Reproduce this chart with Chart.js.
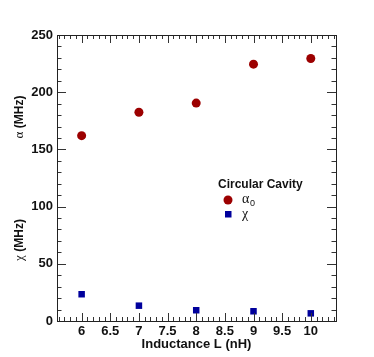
<!DOCTYPE html>
<html lang="en">
<head>
  <meta charset="UTF-8" />
  <title>Circular Cavity</title>
  <script src="https://cdn.jsdelivr.net/npm/chart.js"></script>
  <style>
    html, body {
      margin: 0;
      padding: 0;
      background: #ffffff;
    }
    .wrap {
      width: 374px;
      height: 357px;
    }
  </style>
</head>
<body>
  <div class="wrap"><canvas id="plot" width="374" height="357"></canvas></div>

  <script>
    // values
    const inductance = [6, 7, 8, 9, 10];
    const alpha0 = [162, 182.5, 190.5, 224.5, 229.5];
    const chi = [23.4, 13.4, 9.4, 8.5, 6.7];

    const xTickLabels = [6, 6.5, 7, 7.5, 8, 8.5, 9, 9.5, 10];
    const yTickLabels = [0, 50, 100, 150, 200, 250];

    const SANS = '"Liberation Sans", Arial, sans-serif';
    const SERIF = '"Liberation Serif", "DejaVu Serif", serif';

    const toPoints = (xs, ys) => xs.map((x, i) => ({ x, y: ys[i] }));

    // ROOT-like frame: ticks inside on all four sides, y titles, legend box
    const rootFrame = {
      id: 'rootFrame',
      afterDraw(chart) {
        const ctx = chart.ctx;
        const a = chart.chartArea;
        const xs = chart.scales.x;
        const ys = chart.scales.y;
        ctx.save();

        ctx.strokeStyle = '#333';
        ctx.lineWidth = 1;

        // x ticks every 0.1, major every 0.5
        for (let i = Math.ceil(xs.min * 10); i <= Math.floor(xs.max * 10); i++) {
          const px = Math.round(xs.getPixelForValue(i / 10)) + 0.5;
          const len = i % 5 === 0 ? 8 : 4;
          ctx.beginPath();
          ctx.moveTo(px, a.bottom); ctx.lineTo(px, a.bottom - len);
          ctx.moveTo(px, a.top); ctx.lineTo(px, a.top + len);
          ctx.stroke();
        }
        // y ticks every 10, major every 50
        for (let v = 0; v <= ys.max; v += 10) {
          const py = Math.round(ys.getPixelForValue(v)) + 0.5;
          const len = v % 50 === 0 ? 9 : 4.5;
          ctx.beginPath();
          ctx.moveTo(a.left, py); ctx.lineTo(a.left + len, py);
          ctx.moveTo(a.right, py); ctx.lineTo(a.right - len, py);
          ctx.stroke();
        }

        ctx.strokeStyle = '#222';
        ctx.strokeRect(Math.round(a.left) + 0.5, Math.round(a.top) + 0.5,
          Math.round(a.right - a.left), Math.round(a.bottom - a.top));

        // rotated y titles
        const yTitle = (greek, cy) => {
          ctx.save();
          ctx.translate(20, cy);
          ctx.rotate(-Math.PI / 2);
          ctx.fillStyle = '#111';
          ctx.textBaseline = 'middle';
          ctx.font = '13px ' + SERIF;
          const gw = ctx.measureText(greek).width;
          ctx.font = 'bold 12px ' + SANS;
          const rest = ' (MHz)';
          const rw = ctx.measureText(rest).width;
          let x = -(gw + rw) / 2;
          ctx.font = '13px ' + SERIF;
          ctx.textAlign = 'left';
          ctx.fillText(greek, x, 0);
          ctx.font = 'bold 12px ' + SANS;
          ctx.fillText(rest, x + gw, 0);
          ctx.restore();
        };
        yTitle('\u03b1', 117);
        yTitle('\u03c7', 240);

        // legend
        ctx.fillStyle = '#111';
        ctx.font = 'bold 12px ' + SANS;
        ctx.textBaseline = 'middle';
        ctx.textAlign = 'left';
        ctx.fillText('Circular Cavity', 218, 185);

        const ds = chart.data.datasets;
        ctx.fillStyle = ds[0].backgroundColor;
        ctx.beginPath();
        ctx.arc(228, 200, 4.5, 0, Math.PI * 2);
        ctx.fill();
        ctx.fillStyle = ds[1].backgroundColor;
        ctx.fillRect(225, 211, 6.5, 6.5);

        ctx.fillStyle = '#111';
        ctx.font = '14px ' + SERIF;
        ctx.fillText('\u03b1', 242, 199);
        ctx.font = '9px ' + SANS;
        ctx.fillText('0', 250, 204);
        ctx.font = '14px ' + SERIF;
        ctx.fillText('\u03c7', 242, 214);

        ctx.restore();
      }
    };

    new Chart(document.getElementById('plot'), {
      type: 'scatter',
      data: {
        datasets: [
          {
            label: '\u03b1\u2080',
            data: toPoints(inductance, alpha0),
            pointStyle: 'circle',
            pointRadius: 4.5,
            backgroundColor: '#9c0000',
            borderColor: '#9c0000',
            borderWidth: 0
          },
          {
            label: '\u03c7',
            data: toPoints(inductance, chi),
            pointStyle: 'rect',
            pointRadius: 4.6,
            backgroundColor: '#00009c',
            borderColor: '#00009c',
            borderWidth: 0
          }
        ]
      },
      options: {
        responsive: false,
        animation: false,
        layout: { padding: { top: 35, right: 38, left: 0, bottom: 0 } },
        plugins: {
          legend: { display: false },
          tooltip: { enabled: false }
        },
        scales: {
          x: {
            type: 'linear',
            min: 5.57,
            max: 10.44,
            grid: { display: false, drawTicks: false },
            border: { display: false },
            afterBuildTicks: (scale) => {
              scale.ticks = xTickLabels.map(v => ({ value: v }));
            },
            afterFit: (scale) => { scale.height = 36; },
            ticks: {
              padding: 3,
              color: '#111',
              maxRotation: 0,
              autoSkip: false,
              callback: (v) => String(v),
              font: { family: SANS, size: 13, weight: 'bold' }
            },
            title: {
              display: true,
              text: 'Inductance L (nH)',
              color: '#111',
              padding: { top: 0, bottom: 5 },
              font: { family: SANS, size: 13, weight: 'bold' }
            }
          },
          y: {
            type: 'linear',
            min: 0,
            max: 250,
            grid: { display: false, drawTicks: false },
            border: { display: false },
            afterBuildTicks: (scale) => {
              scale.ticks = yTickLabels.map(v => ({ value: v }));
            },
            afterFit: (scale) => { scale.width = 57; },
            ticks: {
              padding: 4,
              color: '#111',
              callback: (v) => String(v),
              font: { family: SANS, size: 13, weight: 'bold' }
            }
          }
        }
      },
      plugins: [rootFrame]
    });
  </script>
</body>
</html>
